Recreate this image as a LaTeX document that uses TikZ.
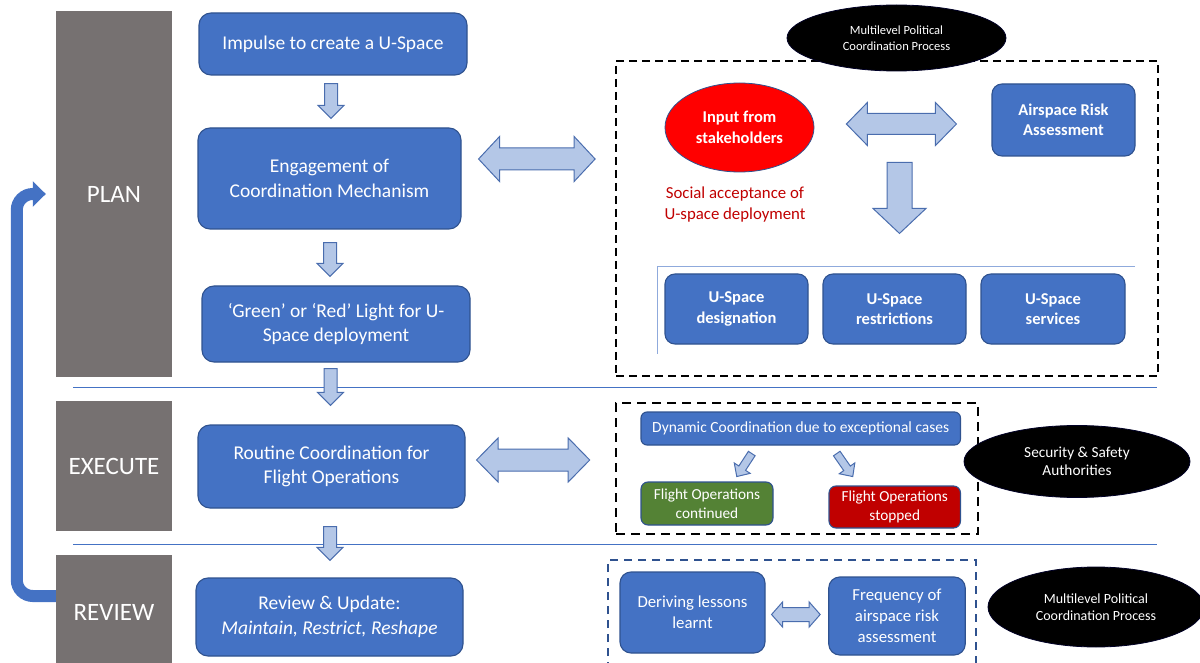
\documentclass[tikz,border=0pt]{standalone}
\usepackage{fontspec}
\setmainfont{Carlito}
\usetikzlibrary{calc,shapes.geometric,arrows.meta}

\definecolor{boxblue}{HTML}{4472C4}
\definecolor{edgeblue}{HTML}{2F528F}
\definecolor{arrowfill}{HTML}{B4C7E7}
\definecolor{arrowedge}{HTML}{4A6DAE}
\definecolor{phasegray}{HTML}{767171}
\definecolor{okgreen}{HTML}{548235}
\definecolor{stopred}{HTML}{C00000}
\definecolor{bracketblue}{HTML}{8FAADC}

\newcommand\fsz[2]{\fontsize{#1pt}{#2pt}\selectfont}

% block arrow from tail #1 to tip #2: half shaft #3, half head #4, head length #5
\newcommand\blockarrow[5]{%
  \coordinate (bah) at ($(#2)!#5!(#1)$);
  \draw[blockarrowstyle] ($(#1)!#3!90:(#2)$) -- ($(bah)!#3!90:(#2)$)
    -- ($(bah)!#4!90:(#2)$) -- (#2) -- ($(bah)!#4!-90:(#2)$)
    -- ($(bah)!#3!-90:(#2)$) -- ($(#1)!#3!-90:(#2)$) -- cycle;
}
% double-headed block arrow between #1 and #2
\newcommand\doublearrow[5]{%
  \coordinate (dha) at ($(#1)!#5!(#2)$);
  \coordinate (dhb) at ($(#2)!#5!(#1)$);
  \draw[blockarrowstyle] (#1) -- ($(dha)!#4!90:(#2)$) -- ($(dha)!#3!90:(#2)$)
    -- ($(dhb)!#3!90:(#2)$) -- ($(dhb)!#4!90:(#2)$) -- (#2)
    -- ($(dhb)!#4!-90:(#2)$) -- ($(dhb)!#3!-90:(#2)$)
    -- ($(dha)!#3!-90:(#2)$) -- ($(dha)!#4!-90:(#2)$) -- cycle;
}

\tikzset{
  bluebox/.style={draw=edgeblue, fill=boxblue, line width=1.1pt, rounded corners=12pt,
    text=white, align=center, inner sep=0pt, font=\fsz{19.5}{24.5}},
  innerbox/.style={bluebox, rounded corners=10pt, font=\fsz{16.5}{20.5}\bfseries},
  smallbox/.style={bluebox, rounded corners=7pt, font=\fsz{15.3}{19}},
  lessonbox/.style={bluebox, rounded corners=11pt, font=\fsz{16.8}{21}},
  phase/.style={fill=phasegray, text=white, inner sep=0pt, minimum width=116pt,
    font=\fsz{25}{30}},
  blockarrowstyle/.style={fill=arrowfill, draw=arrowedge, line width=1pt, line join=miter},
  blackoval/.style={ellipse, fill=black, draw=black!85!blue, line width=0.8pt,
    text=white, align=center, inner sep=0pt},
  sepline/.style={draw=boxblue, line width=0.9pt},
  bracket/.style={draw=bracketblue, line width=0.9pt},
  frame/.style={draw=black, line width=1.8pt, dash pattern=on 8pt off 5pt, inner sep=0pt},
  feedback/.style={draw=boxblue, line width=12pt, rounded corners=16pt,
    -{Triangle[length=13pt,width=25pt]}},
}

\begin{document}
\begin{tikzpicture}[x=1pt,y=-1pt]
\useasboundingbox (0,0) rectangle (1200,663);

% phase separators
\draw[sepline] (73,387) -- (1157,387);
\draw[sepline] (73,544.5) -- (1157,544.5);

% phase bars
\node[phase, minimum height=366pt] (plan) at (114,194) {PLAN};
\node[phase, minimum height=130pt] (execute) at (114,466) {EXECUTE};
\node[phase, minimum height=110pt] (review) at (114,610) {};
\node[text=white, font=\fsz{25}{30}] (reviewlabel) at (114,612) {REVIEW};

% feedback loop from REVIEW back to PLAN
\coordinate (fb0) at ($(review.west)+(0,-14)$);
\coordinate (fb1) at ($(fb0)+(-39,0)$);
\coordinate (fbtip) at ($(plan.west)+(-10,0)$);
\draw[feedback] (fb0) -- (fb1) -- (fb1 |- fbtip) -- (fbtip);

% main process column
\node[bluebox, minimum width=268pt, minimum height=62pt] (impulse) at (333,44)
  {Impulse to create a U-Space};
\node[bluebox, minimum width=263pt, minimum height=101pt] (engage) at (329.5,178.5)
  {Engagement of\\Coordination Mechanism};
\node[bluebox, minimum width=268pt, minimum height=76pt] (light) at (336,324)
  {‘Green’ or ‘Red’ Light for U-\\Space deployment};
\node[bluebox, minimum width=267pt, minimum height=83pt] (routine) at (331.5,466.5)
  {Routine Coordination for\\Flight Operations};
\node[bluebox, minimum width=267pt, minimum height=78pt] (revupd) at (329.5,617)
  {Review \& Update:\\\textit{Maintain, Restrict, Reshape}};

% downward block arrows
\coordinate (a1) at ($(impulse.south)+(-2,8)$);
\coordinate (a2) at ($(a1 |- engage.north)+(0,-9)$);
\blockarrow{a1}{a2}{6.5pt}{13pt}{13pt}
\coordinate (b1) at ($(engage.south)+(0.5,13)$);
\coordinate (b2) at ($(b1 |- light.north)+(0,-9)$);
\blockarrow{b1}{b2}{6.5pt}{13pt}{13pt}
\coordinate (c1) at ($(light.south)+(-5.5,6)$);
\coordinate (c2) at ($(c1 |- routine.north)+(0,-19)$);
\blockarrow{c1}{c2}{6.5pt}{13pt}{13pt}
\coordinate (e1) at ($(routine.south)+(-1.5,18)$);
\coordinate (e2) at ($(e1 |- revupd.north)+(0,-17)$);
\blockarrow{e1}{e2}{6.5pt}{13pt}{13pt}

% PLAN: coordination frame
\node[frame, minimum width=542pt, minimum height=315pt] (planbox) at (887,218.5) {};
\node[ellipse, fill=red, draw=edgeblue, line width=0.8pt, inner sep=0pt,
  minimum width=149pt, minimum height=89pt, text=white, align=center,
  font=\fsz{16.5}{20.5}\bfseries] (input) at (739.5,127.5) {Input from\\stakeholders};
\node[innerbox, minimum width=143pt, minimum height=72pt] (airspace) at (1063.5,120)
  {Airspace Risk\\Assessment};
\node[text=stopred, align=center, font=\fsz{16.8}{21}] (social) at (735,205)
  {Social acceptance of\\U-space deployment};
\draw[bracket] (1135,266) -- (657,266) -- (657,354);
\node[innerbox, minimum width=143pt, minimum height=70pt] (designation) at (736.5,309)
  {U-Space\\designation};
\node[innerbox, minimum width=143pt, minimum height=70pt] (restrictions) at (894.5,309)
  {U-Space\\restrictions};
\node[innerbox, minimum width=144pt, minimum height=70pt] (services) at (1053,309)
  {U-Space\\services};
\coordinate (h1) at ($(input.east)+(32,-3.5)$);
\coordinate (h2) at ($(h1 -| airspace.west)+(-35,0)$);
\doublearrow{h1}{h2}{10.5pt}{21.5pt}{21pt}
\coordinate (i1) at ($(restrictions.north)+(5,-111)$);
\coordinate (i2) at ($(i1)+(0,71)$);
\blockarrow{i1}{i2}{12.5pt}{26.5pt}{25pt}
\coordinate (f1) at ($(engage.east)+(17,-19.5)$);
\coordinate (f2) at ($(f1 -| planbox.west)+(-20,0)$);
\doublearrow{f1}{f2}{11pt}{22.5pt}{21pt}
\node[blackoval, minimum width=219pt, minimum height=66pt, font=\fsz{12.5}{16}]
  (multitop) at (896.5,38) {Multilevel Political\\Coordination Process};

% EXECUTE: exceptional cases
\node[frame, line width=2.6pt, dash pattern=on 9pt off 6pt, minimum width=362pt,
  minimum height=131pt] (execbox) at (797,468.5) {};
\node[smallbox, rounded corners=6pt, minimum width=319.5pt, minimum height=33pt,
  font=\fsz{15.5}{19}] (dynamic) at (800.75,428.5)
  {Dynamic Coordination due to exceptional cases};
\node[smallbox, fill=okgreen, minimum width=132pt, minimum height=43pt] (continued)
  at (707,503.5) {Flight Operations\\continued};
\node[smallbox, fill=stopred, minimum width=131.5pt, minimum height=42pt] (stopped)
  at (894.75,507) {Flight Operations\\stopped};
\coordinate (j1) at ($(dynamic.south)+(-49,8)$);
\coordinate (j2) at ($(j1)+(-15,23)$);
\blockarrow{j1}{j2}{4pt}{9.5pt}{10pt}
\coordinate (k1) at ($(dynamic.south)+(36,8)$);
\coordinate (k2) at ($(k1)+(16,23)$);
\blockarrow{k1}{k2}{4pt}{9.5pt}{10pt}
\coordinate (g1) at ($(routine.east)+(11,-6.5)$);
\coordinate (g2) at ($(g1 -| execbox.west)+(-25,0)$);
\doublearrow{g1}{g2}{11pt}{22pt}{21.5pt}
\node[blackoval, minimum width=226pt, minimum height=72pt, font=\fsz{15.3}{18}]
  (security) at (1077,461.5) {Security \& Safety\\Authorities};

% REVIEW: lessons learnt
\draw[draw=edgeblue, line width=1.8pt, dash pattern=on 8pt off 6pt] (608,670) |- (976,560) -- (976,670);
\node[lessonbox, minimum width=145pt, minimum height=81pt] (deriving) at (692.5,612.5)
  {Deriving lessons\\learnt};
\node[lessonbox, minimum width=136.5pt, minimum height=78pt] (frequency) at (897,616)
  {Frequency of\\airspace risk\\assessment};
\coordinate (l1) at ($(deriving.east)+(6,2)$);
\coordinate (l2) at ($(l1 -| frequency.west)+(-8,0)$);
\doublearrow{l1}{l2}{7pt}{12.5pt}{11pt}
\node[blackoval, minimum width=216pt, minimum height=80pt, font=\fsz{14}{16.5}]
  (multibottom) at (1096,607) {Multilevel Political\\Coordination Process};
\end{tikzpicture}
\end{document}
